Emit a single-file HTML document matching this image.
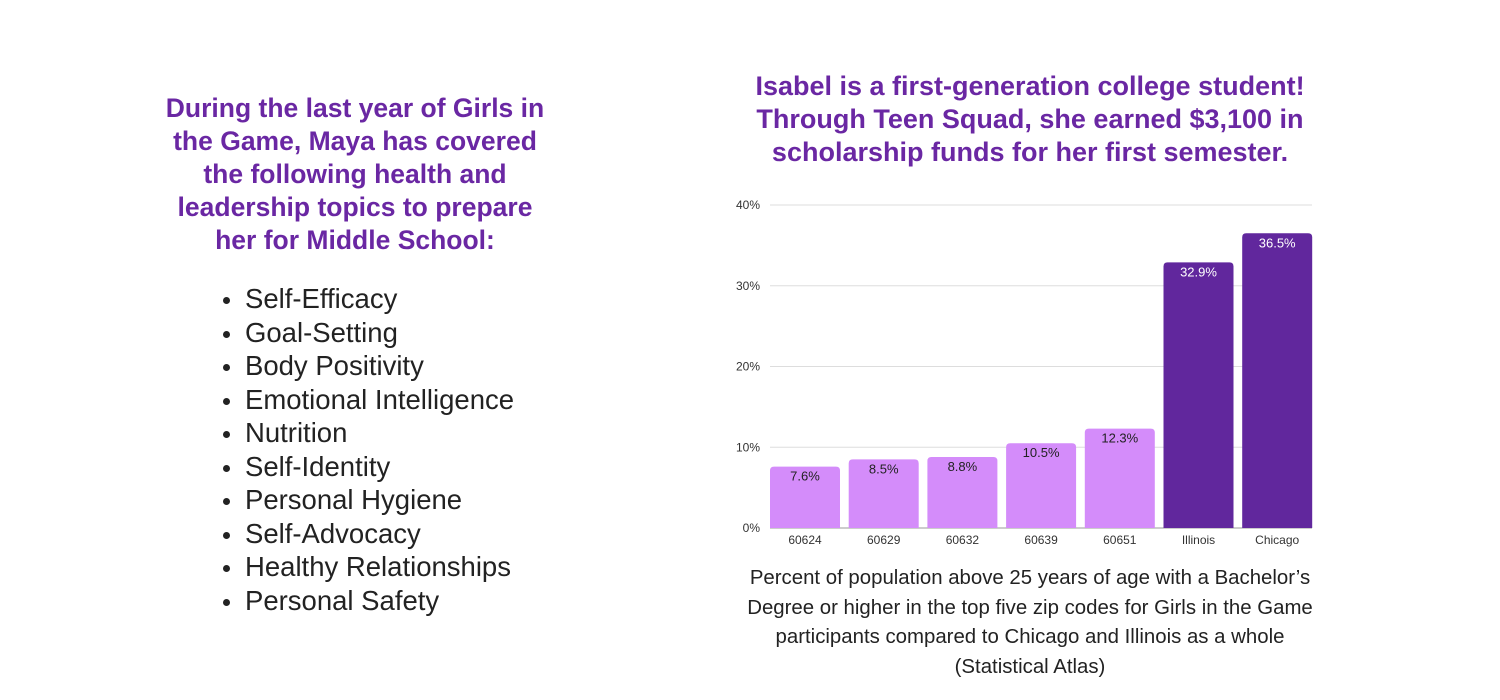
<!DOCTYPE html>
<html><head><meta charset="utf-8"><style>
body{margin:0;width:1500px;height:700px;background:#fff;font-family:"Liberation Sans",sans-serif;position:relative;overflow:hidden}
.h{position:absolute;color:#6a27a3;font-weight:bold;text-align:center;white-space:nowrap}
ul{position:absolute;left:245px;top:282px;margin:0;padding:0;list-style:none;font-size:27.5px;color:#222;line-height:33.5px}
li{position:relative}
li:before{content:"";position:absolute;left:-22px;top:15px;width:7px;height:7px;border-radius:50%;background:#222}
.cap{position:absolute;left:700px;top:564px;width:660px;text-align:center;font-size:20.4px;line-height:29.5px;color:#222;white-space:nowrap}
</style></head><body>
<div class="h" style="left:140px;top:92px;width:430px;font-size:26.5px;line-height:33px">During the last year of Girls in<br>the Game, Maya has covered<br>the following health and<br>leadership topics to prepare<br>her for Middle School:</div>
<ul>
<li>Self-Efficacy</li><li>Goal-Setting</li><li>Body Positivity</li><li>Emotional Intelligence</li><li>Nutrition</li><li>Self-Identity</li><li>Personal Hygiene</li><li>Self-Advocacy</li><li>Healthy Relationships</li><li>Personal Safety</li>
</ul>
<div class="h" style="left:720px;top:70px;width:620px;font-size:27px;line-height:33px">Isabel is a first-generation college student!<br>Through Teen Squad, she earned $3,100 in<br>scholarship funds for her first semester.</div>
<svg id="chart" width="1500" height="700" style="position:absolute;left:0;top:0"></svg>
<div class="cap">Percent of population above 25 years of age with a Bachelor’s<br>Degree or higher in the top five zip codes for Girls in the Game<br>participants compared to Chicago and Illinois as a whole<br>(Statistical Atlas)</div>
<script>
const categories=["60624","60629","60632","60639","60651","Illinois","Chicago"];
const values=[7.6,8.5,8.8,10.5,12.3,32.9,36.5];
const labels=["7.6%","8.5%","8.8%","10.5%","12.3%","32.9%","36.5%"];
const ticks=[0,10,20,30,40];
const ns="http://www.w3.org/2000/svg",svg=document.getElementById('chart');
const x0=770,step=78.7,bw=70,y0=528,yTop=205,max=40;
const y=v=>y0-(v/max)*(y0-yTop);
function mk(t,a,txt){const e=document.createElementNS(ns,t);for(const k in a)e.setAttribute(k,a[k]);if(txt!==undefined)e.textContent=txt;svg.appendChild(e);return e;}
ticks.forEach(t=>{
 const l=mk('line',{x1:770,x2:1312,y1:y(t),y2:y(t),stroke:t===0?'#999':'#ddd','stroke-width':1});
 
 
 const tx=mk('text',{x:760,y:y(t)+4,'text-anchor':'end','font-size':12,fill:'#333','font-family':'Liberation Sans'},t+'%');
 
 
});
categories.forEach((c,i)=>{
 const bx=x0+i*step,top=y(values[i]),dark=i>=5;
 const r=mk('path',{d:`M${bx},${y0}V${top+4}Q${bx},${top} ${bx+4},${top}H${bx+bw-4}Q${bx+bw},${top} ${bx+bw},${top+4}V${y0}Z`,fill:dark?'#61279d':'#d48cfa'});
 
 
 const v=mk('text',{x:bx+bw/2,y:top+14,'text-anchor':'middle','font-size':13,fill:dark?'#fff':'#222','font-family':'Liberation Sans'},labels[i]);
 
 
 const xl=mk('text',{x:bx+bw/2,y:544,'text-anchor':'middle','font-size':12,fill:'#333','font-family':'Liberation Sans'},c);
 
 
});
</script>
</body></html>
